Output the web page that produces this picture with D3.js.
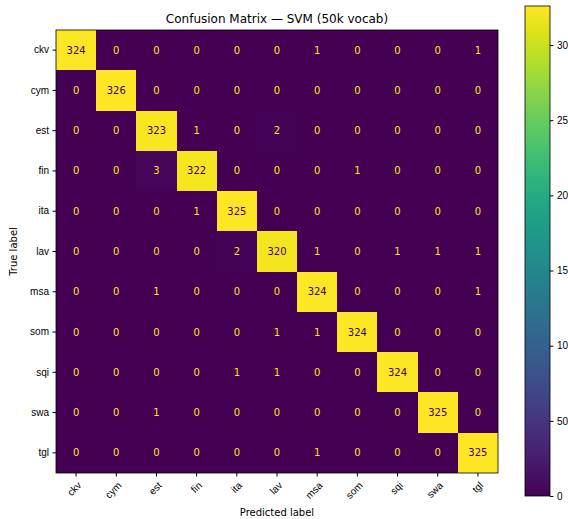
<!DOCTYPE html>
<html>
<head>
<meta charset="utf-8">
<script src="https://cdn.jsdelivr.net/npm/d3@7"></script>
<style>
  body { margin: 0; background: #fff; }
  svg { font-family: 'DejaVu Sans', sans-serif; display: block; }
</style>
</head>
<body>
<div id="wrapper"></div>
<script>
// labels shared by both axes
const labels = ['ckv', 'cym', 'est', 'fin', 'ita', 'lav', 'msa', 'som', 'sqi', 'swa', 'tgl'];

// one row per true label
const rowCkv = [324, 0, 0, 0, 0, 0, 1, 0, 0, 0, 1];
const rowCym = [0, 326, 0, 0, 0, 0, 0, 0, 0, 0, 0];
const rowEst = [0, 0, 323, 1, 0, 2, 0, 0, 0, 0, 0];
const rowFin = [0, 0, 3, 322, 0, 0, 0, 1, 0, 0, 0];
const rowIta = [0, 0, 0, 1, 325, 0, 0, 0, 0, 0, 0];
const rowLav = [0, 0, 0, 0, 2, 320, 1, 0, 1, 1, 1];
const rowMsa = [0, 0, 1, 0, 0, 0, 324, 0, 0, 0, 1];
const rowSom = [0, 0, 0, 0, 0, 1, 1, 324, 0, 0, 0];
const rowSqi = [0, 0, 0, 0, 1, 1, 0, 0, 324, 0, 0];
const rowSwa = [0, 0, 1, 0, 0, 0, 0, 0, 0, 325, 0];
const rowTgl = [0, 0, 0, 0, 0, 0, 1, 0, 0, 0, 325];

const colorbarTicks = [0, 50, 100, 150, 200, 250, 300];

const matrix = [rowCkv, rowCym, rowEst, rowFin, rowIta, rowLav, rowMsa, rowSom, rowSqi, rowSwa, rowTgl];

const dimensions = {
  width: 568,
  height: 519,
  margin: { top: 30, left: 56 },
  boundedWidth: 442,
  boundedHeight: 443,
};

const cells = [];
matrix.forEach((row, i) => row.forEach((v, j) => cells.push({ t: labels[i], p: labels[j], v })));

const maxVal = d3.max(cells, (d) => d.v);
const minVal = d3.min(cells, (d) => d.v);
const colorScale = d3.scaleSequential(d3.interpolateViridis).domain([minVal, maxVal]);
const thresh = (maxVal + minVal) / 2;

const wrapper = d3.select('#wrapper')
  .append('svg')
  .attr('width', dimensions.width)
  .attr('height', dimensions.height);

const bounds = wrapper.append('g')
  .attr('transform', `translate(${dimensions.margin.left},${dimensions.margin.top})`);

const xScale = d3.scaleBand().domain(labels).range([0, dimensions.boundedWidth]);
const yScale = d3.scaleBand().domain(labels).range([0, dimensions.boundedHeight]);

// background in the low colour so no seams show between cells
bounds.append('rect')
  .attr('width', dimensions.boundedWidth)
  .attr('height', dimensions.boundedHeight)
  .attr('fill', colorScale(minVal));

bounds.selectAll('.cell')
  .data(cells)
  .join('rect')
  .attr('class', 'cell')
  .attr('x', (d) => xScale(d.p))
  .attr('y', (d) => yScale(d.t))
  .attr('width', xScale.bandwidth())
  .attr('height', yScale.bandwidth())
  .attr('shape-rendering', 'crispEdges')
  .attr('fill', (d) => colorScale(d.v));

bounds.selectAll('.cell-label')
  .data(cells)
  .join('text')
  .attr('class', 'cell-label')
  .attr('x', (d) => xScale(d.p) + xScale.bandwidth() / 2)
  .attr('y', (d) => yScale(d.t) + yScale.bandwidth() / 2)
  .attr('text-anchor', 'middle')
  .attr('dominant-baseline', 'central')
  .style('font-size', '10px')
  .style('fill', (d) => (d.v < thresh ? colorScale(maxVal) : colorScale(minVal)))
  .text((d) => d.v);

bounds.append('rect')
  .attr('width', dimensions.boundedWidth)
  .attr('height', dimensions.boundedHeight)
  .attr('fill', 'none')
  .attr('stroke', '#000')
  .attr('stroke-width', 0.8);

// axes
const xAxis = bounds.append('g')
  .attr('transform', `translate(0,${dimensions.boundedHeight})`)
  .call(d3.axisBottom(xScale).tickSizeOuter(0).tickSize(3.5));
xAxis.select('.domain').remove();
// rotated labels sit just below and slightly left of their tick
xAxis.selectAll('text')
  .style('font-size', '10px')
  .attr('text-anchor', 'middle')
  .attr('dy', null)
  .attr('y', null)
  .attr('dominant-baseline', 'central')
  .each(function () {
    const w = this.getComputedTextLength();
    const h = (w + 10) / Math.SQRT2;
    const cy = 7 + h / 2;
    const cx = -(h / 2 - 7);
    d3.select(this).attr('transform', `translate(${cx},${cy}) rotate(-45)`);
  });

const yAxis = bounds.append('g')
  .call(d3.axisLeft(yScale).tickSizeOuter(0).tickSize(3.5).tickPadding(3.5));
yAxis.select('.domain').remove();
yAxis.selectAll('text').style('font-size', '10px');

wrapper.append('text')
  .attr('x', dimensions.margin.left + dimensions.boundedWidth / 2)
  .attr('y', 23)
  .attr('text-anchor', 'middle')
  .style('font-size', '12px')
  .text('Confusion Matrix — SVM (50k vocab)');

wrapper.append('text')
  .attr('x', dimensions.margin.left + dimensions.boundedWidth / 2)
  .attr('y', 516)
  .attr('text-anchor', 'middle')
  .style('font-size', '10px')
  .text('Predicted label');

wrapper.append('text')
  .attr('transform', `translate(17,${dimensions.margin.top + dimensions.boundedHeight / 2}) rotate(-90)`)
  .attr('text-anchor', 'middle')
  .style('font-size', '10px')
  .text('True label');

// colorbar
const cb = { x: 525, y: 6, width: 25, height: 490 };
const cbScale = d3.scaleLinear().domain([minVal, maxVal]).range([cb.y + cb.height, cb.y]);

const defs = wrapper.append('defs');
const grad = defs.append('linearGradient')
  .attr('id', 'cb-grad')
  .attr('x1', 0).attr('y1', 1).attr('x2', 0).attr('y2', 0);
d3.range(0, 1.0001, 0.05).forEach((t) => {
  grad.append('stop')
    .attr('offset', t)
    .attr('stop-color', d3.interpolateViridis(t));
});

wrapper.append('rect')
  .attr('x', cb.x)
  .attr('y', cb.y)
  .attr('width', cb.width)
  .attr('height', cb.height)
  .attr('fill', 'url(#cb-grad)')
  .attr('stroke', '#000')
  .attr('stroke-width', 0.8);

const cbAxis = wrapper.append('g')
  .attr('transform', `translate(${cb.x + cb.width},0)`)
  .call(d3.axisRight(cbScale).tickValues(colorbarTicks).tickSize(3.5).tickPadding(3.5));
cbAxis.select('.domain').remove();
cbAxis.selectAll('text').style('font-size', '10px');
</script>
</body>
</html>
